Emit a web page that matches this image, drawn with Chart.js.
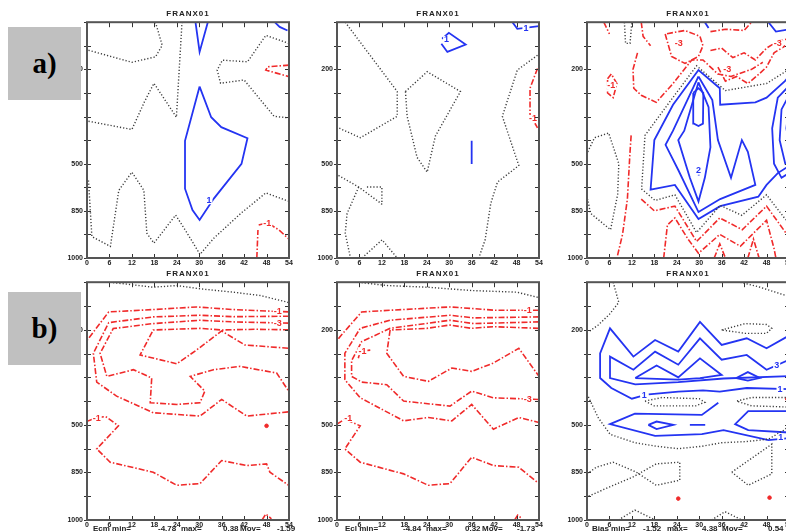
<!DOCTYPE html>
<html>
<head>
<meta charset="utf-8">
<script src="https://cdn.jsdelivr.net/npm/chart.js@4.4.1/dist/chart.umd.min.js"></script>
<style>
body{margin:0;width:786px;height:532px;overflow:hidden;background:#fff;position:relative;font-family:"Liberation Sans",Arial,sans-serif}
canvas{position:absolute}
.ttl{position:absolute;width:202px;text-align:center;font:bold 8px "Liberation Sans",Arial,sans-serif;letter-spacing:1px;color:#222}
.tag{position:absolute;left:8px;width:73px;height:73px;background:#c0c0c0;z-index:5;display:flex;align-items:center;justify-content:center;font:bold 29px "Liberation Serif","DejaVu Serif",serif;color:#000}
.ft{position:absolute;top:524px;font:bold 8px "Liberation Sans",Arial,sans-serif;color:#222;white-space:pre}
</style>
</head>
<body>
<div class="tag" style="top:27px">a)</div>
<div class="tag" style="top:292px">b)</div>
<script>
// axis ticks
const xTicks = [0, 6, 12, 18, 24, 30, 36, 42, 48, 54]
const yLevels = [2, 6, 8, 10]
const yLabels = ['200', '500', '850', '1000']

// contours: [x, level] with level 0 at top, 10 at 1000
// --- a) left
const p1Zero = [
  [[0.4,4.2],[12,4.55],[15.4,3.36],[17.9,2.59],[23.9,4.03],[25.4,0]],
  [[0.4,1.19],[12,1.7],[18.3,1.47],[20.1,0.98],[18.3,0]],
  [[54,0.9],[47.8,0.56],[42.9,1.68],[36.2,1.61],[34.8,2.03],[35.7,2.59],[42,2.45],[50,3.99],[54,4.06]],
  [[0.4,6.71],[1.3,9.09],[6.25,9.51],[8.5,7.13],[12,6.36],[15.2,7.13],[16,8.95],[17.9,9.37],[23.7,8.18],[26.8,8.95],[30.2,9.85],[33.9,9.16],[41.1,8.11],[47.8,7.24],[54,7.6]]
]
const p1Pos = [
  [[29,0],[30.1,1.26],[32.3,0]],
  [[30.1,2.73],[33.2,4.03],[35.9,4.45],[42.9,4.92],[41.3,6.01],[33.9,7.48],[30.1,8.39],[28.2,7.97],[26.2,7.06],[26.2,5.03],[30.1,2.73]],
  [[50.2,0],[51.5,0.2],[53.6,0.35]]
]
const p1Neg = [
  [[54,1.82],[48.3,1.89],[47.8,2.03],[50.9,2.17],[54,2.31]],
  [[45.4,10],[45.7,8.81]],
  [[45.9,8.6],[48.2,8.5],[51.3,8.81],[54,9.2]]
]
const p1Labels = [[32.6,7.55,'1','pos'],[48.2,8.55,'-1','neg']]

// --- a) middle
const p2Zero = [
  [[2.2,0],[16.1,2.94],[16.1,3.99],[6.25,4.9],[0.4,4.48]],
  [[18.3,2.94],[24.1,2.1],[33,2.94],[26.3,4.83],[24.1,6.36],[21.4,5.73],[18.75,3.99],[18.3,2.94]],
  [[53.6,1.4],[48.2,2.03],[44.2,3.99],[48.6,6.08],[42.9,6.78],[41.1,7.69],[39.6,9.23],[37.9,10]],
  [[0.4,6.5],[5.8,6.99],[12.05,7.72]],
  [[8,6.99],[12,6.99],[12,7.72]],
  [[5.8,6.99],[2.7,8.11],[2.2,8.95],[3.6,10]],
  [[6.7,10],[12.05,9.23],[16.1,10]]
]
const p2Pos = [
  [[28.1,0.7],[29.9,0.45],[34.4,0.95],[29.5,1.26],[27.9,0.91]],
  [[36,5.03],[36,6.01]],
  [[46.9,0],[48.2,0.28],[54,0.17]]
]
const p2Neg = [
  [[53.6,1.96],[51.6,2.8],[51.6,3.92],[53.6,4.48]]
]
const p2Labels = [[29.3,0.75,'1','pos'],[50.5,0.25,'1','pos'],[52.4,4.1,'-1','neg']]

// --- a) right
const p3Zero = [
  [[54,2.0],[48,2.6],[37,2.9],[29.3,1.85],[22,3.4],[15.5,4.8],[14.6,7.07],[18.2,7.56],[23.5,7.32],[29.3,8.92],[35.6,7.77],[41.4,8.19],[48,7.32],[52.9,8.33],[54,8.5]],
  [[0.2,5.5],[2,4.9],[5.8,4.7],[8.5,6.0],[8.2,7.3],[6.3,8.8],[0.9,8.1],[0.2,7.5]],
  [[10,0],[10.3,0.9],[11.5,0.9],[12,0]]
]
const p3Pos = [
  [[54,2.3],[52.9,2.5],[48,3.2],[45,3.4],[35.6,3.5],[35.5,2.8],[29.8,2.03],[23,3.5],[18,5.0],[17,7.1],[23.5,6.9],[29.8,8.35],[35.6,7.8],[45.8,7.4],[48,6.9],[51,6.4],[54,6.1]],
  [[29.8,2.3],[33.5,3.3],[35,5.0],[38.5,6.6],[41.4,5.0],[43,5.5],[45,6.9],[35.6,7.5],[29.8,8.05],[24.5,6.3],[21,5.2],[23,4.6],[29.8,2.3]],
  [[29.8,2.55],[32.5,3.6],[33,5.3],[31.5,6.6],[29.8,7.6],[27.5,6.6],[24.4,5.0],[26,4.6],[29.8,2.55]],
  [[28.4,3.0],[29.8,2.8],[31.1,3.0],[31,4.3],[29.8,4.4],[28.6,4.3],[28.4,3.0]],
  [[29.4,6.2],[30.4,6.2],[29.8,6.5]],
  [[54,2.7],[51,3.2],[49.5,4.5],[50,6.0],[52,6.6],[54,6.4]],
  [[54,3.1],[52,3.7],[51.5,5.0],[53,6.0],[54,6.0]],
  [[54,3.6],[53.3,4.5],[54,5.2]],
  [[48.5,0],[50.5,0.4],[54,0.3]],
  [[31.5,0],[32.5,0.25]]
]
const p3Neg = [
  [[13.5,1.3],[12.3,2.0],[12.5,2.8],[14.5,3.1],[18.5,3.4],[23,2.6],[28,1.6],[31,1.6],[35,2.2],[38.5,2.3],[44,2.0],[47,1.7]],
  [[20.9,0.5],[22.6,1.45],[26.2,1.75],[29.8,1.45],[31,1.0],[30.2,0.6],[26.2,0.35],[20.9,0.5]],
  [[14.5,0],[15,0.6],[17,1.0]],
  [[4.5,0],[6,0.5]],
  [[33,1.2],[36,1.1],[39,1.5],[42,1.3],[45,1.6],[48,1.1],[51,0.8],[54,0.7]],
  [[33,0.4],[37,0.3],[42,0.35],[44,0]],
  [[5.5,2.4],[6.5,2.2],[8,2.6],[7,3.2],[5.5,3.0],[5.5,2.4]],
  [[35,1.9],[37,2.5],[40,2.3],[43,2.6],[46,2.2],[48,1.9],[50,1.3],[53,1.0]],
  [[11.8,4.8],[11.5,5.5],[10.8,7.5],[9.5,9.0],[8,10]],
  [[14.5,7.5],[18,8.0],[23.5,7.8],[29.3,9.3],[35.5,8.3],[41.5,8.8],[48,7.8],[53,8.9],[54,9.0]],
  [[20.5,10],[21.5,8.6],[23.5,8.3],[27,9.2],[29.8,9.8],[35.5,9.0],[41,9.5],[48,8.4],[50,9.6],[50.5,10]],
  [[34,10],[35.5,9.4],[37,10]],
  [[43,10],[44.5,9.2],[46,10]]
]
const p3Labels = [[6.5,2.7,'-1','neg'],[24.5,0.9,'-3','neg'],[37.5,2.0,'-3','neg'],[51,0.9,'-3','neg'],[29.8,6.3,'2','pos']]

// --- b) left
const p4Zero = [
  [[6.1,0],[17.7,0.21],[24,0.14],[30.3,0.28],[39.1,0.42],[46.3,0.56],[53.4,0.83],[54,0.87]]
]
const p4Pos = []
const p4Neg = [
  [[54,1.25],[39.1,1.15],[29.3,1.04],[17.7,1.15],[5.8,1.25],[0,2.45]],
  [[54,1.43],[39,1.45],[30.2,1.39],[17.7,1.46],[5.8,1.7],[1.7,2.99],[2.6,4.2],[7.9,4.79],[17.7,5.49],[30.2,5.63],[36,4.93],[42.7,5.63],[54,5.45]],
  [[54,1.72],[39.1,1.67],[30.2,1.6],[17.7,1.74],[7,1.95],[3.5,2.99],[5.3,3.96],[12.4,3.68],[17.3,4.03],[16.9,5.07],[24,5.14],[30.2,5.07],[31.5,4.58],[27.6,3.96],[33.8,3.68],[40.9,3.54],[50.7,3.82],[54,4.6]],
  [[54,2.0],[45,1.98],[36,2.01],[30.2,1.94],[17.7,2.01],[14.2,3.06],[24,3.43],[29.3,2.85],[36,2.05],[42.2,2.64],[54,2.78]],
  [[0,5.85],[2.6,5.7],[5,5.65],[8.4,6.04],[2.6,7.01],[6.2,7.57],[17.7,7.99],[24,8.54],[30.2,8.47],[36,7.5],[42.7,7.71],[48,7.64],[48.9,7.99],[54,8.55]],
  [[46.8,10],[47.8,9.75],[49.3,9.95]]
]
const p4Dots = [[48,6.04]]
const p4Labels = [[51,1.22,'-1','neg'],[51,1.72,'-3','neg'],[2.6,5.72,'-1','neg']]

// --- b) middle
const p5Zero = [
  [[5.7,0],[13.3,0.14],[24,0.21],[36,0.35],[48.1,0.42],[54,0.65]]
]
const p5Pos = []
const p5Neg = [
  [[54,1.18],[42.3,1.18],[30.2,1.04],[14.2,1.18],[6.6,1.25],[0.8,2.29],[0,2.45]],
  [[54,1.46],[36.5,1.5],[30.2,1.39],[14.2,1.6],[6.2,1.94],[2.1,2.99],[2.1,4.1],[6.2,4.86],[17.8,5.83],[24.4,5.69],[30.7,5.83],[36,5.14],[41.8,6.18],[48.6,5.69],[54,5.9]],
  [[54,1.67],[36.5,1.74],[30.2,1.6],[14.2,1.94],[6.6,2.5],[3.9,3.3],[3.9,3.96],[6.6,4.2],[13.3,4.31],[17.8,5.0],[30.2,5.21],[36,4.58],[41.8,4.86],[54,4.93]],
  [[54,1.94],[41.8,1.87],[36,1.94],[30.2,1.8],[24,1.94],[14.2,2.01],[13.3,2.99],[17.8,3.96],[24.4,4.17],[30.7,3.61],[36,3.75],[41.8,3.4],[48.6,2.78],[54,3.96]],
  [[0,5.97],[2.1,5.76],[6.2,6.04],[2.1,7.01],[6.2,7.57],[17.8,8.06],[24.4,8.54],[30.2,8.47],[36,7.36],[41.8,7.71],[48.6,7.78],[54,8.47]],
  [[5.7,3.2],[6.2,2.9],[9.3,2.85]],
  [[47.5,10],[48.3,9.8],[49.5,9.95]]
]
const p5Dots = []
const p5Labels = [[51,1.18,'-1','neg'],[51,4.93,'-3','neg'],[3,5.72,'-1','neg'],[6.8,2.9,'-1','neg']]

// --- b) right
const p6Zero = [
  [[7,0],[8.5,0.85],[6,1.35],[3,1.8],[0.3,2.1]],
  [[41,0],[46,0.2],[54,0.6]],
  [[36,2.01],[42.3,1.74],[48,1.78],[49.4,1.94],[48,2.15],[42.3,2.15],[36,2.01]],
  [[15.5,5.0],[20,4.85],[30,4.9],[31.5,5.05],[29,5.2],[18,5.2],[15.5,5.0]],
  [[54,4.85],[44,4.85],[40,5.0],[44,5.2],[54,5.25]],
  [[0,4.7],[3,5.7],[6.2,6.4],[12.8,6.75],[18.6,6.9],[24.4,7.0],[30.7,6.9],[36,6.75],[42.7,6.7],[48.5,6.6],[52.9,6.2],[54,6.0]],
  [[0,8.06],[2.5,7.78],[6.95,7.57],[13.2,7.99],[18.5,8.54],[24.8,8.33],[24.8,7.57],[18.5,7.64],[12.3,8.19],[5,8.68],[0,9.03]],
  [[38.7,7.99],[49.4,6.81],[49.4,8.06],[43.1,8.54],[38.7,7.99]],
  [[8.4,10],[12.8,9.58],[18.2,10]],
  [[33.3,10],[36.9,9.65],[41.4,10]]
]
const p6Pos = [
  [[54,2.25],[53.4,2.3],[48,2.78],[42.7,2.36],[36,2.64],[30.2,1.67],[24.4,2.92],[18.2,2.43],[12.4,3.13],[6.15,1.94],[3.5,2.99],[3.5,4.03],[6.5,4.45],[12,4.9],[14.2,4.8]],
  [[16.5,4.72],[24.4,4.6],[31,4.55],[35.5,4.6],[42.7,4.45],[54,4.5]],
  [[54,3.26],[48,3.68],[42.7,3.06],[36,3.26],[30.2,2.36],[24.4,3.47],[18.2,2.92],[12.4,3.68],[6.15,3.13],[6.15,4.03],[12.9,4.3],[24.4,4.2],[36.5,4.05],[54,3.95]],
  [[12.9,4.03],[18.6,3.5],[24.4,4.0],[30.2,3.2],[36,3.9],[30.2,4.03],[24.4,4.1],[12.9,4.03]],
  [[30.5,4.02],[31.2,4.02]],
  [[39.9,4.03],[43,3.78],[46.2,4.03],[43,4.14],[39.9,4.03]],
  [[35.1,5.07],[30.7,5.58],[12.8,5.53],[6.15,5.97],[18.2,6.46],[30.7,6.39],[36.5,6.22],[48.5,6.64],[54,6.56]],
  [[54,5.42],[43.1,5.42],[39.6,5.97],[43.1,6.22],[54,6.32]],
  [[16.4,6.0],[18.6,5.86],[23.1,6.0],[18.6,6.18],[16.4,6.0]],
  [[27.5,6.0],[31.6,6.0]]
]
const p6Neg = []
const p6Dots = [[24.4,9.1],[48.8,9.06],[53.5,4.9]]
const p6Labels = [[15.3,4.76,'1','pos'],[51.6,4.5,'1','pos'],[50.7,3.5,'3','pos'],[51.8,6.55,'1','pos']]

// bottom notes
const notes = [
  ['Ecm min=', '-4.78', 'max=', '0.38', 'Mov=', '-1.59'],
  ['Ecl min=', '-4.84', 'max=', '0.32', 'Mov=', '-1.73'],
  ['Bias min=', '-1.52', 'max=', '4.38', 'Mov=', '0.54']
]

const panels = [
  {left: 87,  top: 20,  h: 238, zero: p1Zero, pos: p1Pos, neg: p1Neg, dots: [], labels: p1Labels},
  {left: 337, top: 20,  h: 238, zero: p2Zero, pos: p2Pos, neg: p2Neg, dots: [], labels: p2Labels},
  {left: 587, top: 20,  h: 238, zero: p3Zero, pos: p3Pos, neg: p3Neg, dots: [], labels: p3Labels},
  {left: 87,  top: 280, h: 240, zero: p4Zero, pos: p4Pos, neg: p4Neg, dots: p4Dots, labels: p4Labels, note: 0},
  {left: 337, top: 280, h: 240, zero: p5Zero, pos: p5Pos, neg: p5Neg, dots: p5Dots, labels: p5Labels, note: 1},
  {left: 587, top: 280, h: 240, zero: p6Zero, pos: p6Pos, neg: p6Neg, dots: p6Dots, labels: p6Labels, note: 2}
]
const noteOffsets = [[6, 71, 94, 136, 153, 190], [8, 66, 89, 128, 145, 180], [5, 56, 80, 115, 135, 181]]

const BLUE = '#2434f2', RED = '#f02a2a', GREY = '#3c3c3c'
const zeroStyle = {borderColor: GREY, borderWidth: 1.4, borderDash: [1.2, 2]}
const posStyle = {borderColor: BLUE, borderWidth: 1.8}
const negStyle = {borderColor: RED, borderWidth: 1.6, borderDash: [6, 2, 1.5, 2]}

function toLines(list, style) {
    return list.map(pts => ({
        data: pts.map(([x, y]) => ({x, y})),
        showLine: true, pointRadius: 0, fill: false, ...style
    }))
}

// frame with inward ticks, like the original plots
const framePlugin = {
    id: 'frame',
    afterDraw(chart) {
        const {ctx, chartArea: a, scales: {x, y}} = chart
        ctx.save()
        ctx.strokeStyle = '#333'
        ctx.lineWidth = 1
        ctx.beginPath()
        xTicks.forEach(v => {
            const px = Math.round(x.getPixelForValue(v)) + 0.5
            ctx.moveTo(px, a.bottom); ctx.lineTo(px, a.bottom - 4)
            ctx.moveTo(px, a.top); ctx.lineTo(px, a.top + 5)
        })
        for (let v = 0; v <= 10; v++) {
            const py = Math.round(y.getPixelForValue(v)) + 0.5
            ctx.moveTo(a.left - 3, py); ctx.lineTo(a.left + 4, py)
            ctx.moveTo(a.right, py); ctx.lineTo(a.right - 4, py)
        }
        ctx.stroke()
        ctx.strokeStyle = '#555'
        ctx.lineWidth = 2
        ctx.strokeRect(a.left, a.top, a.right - a.left, a.bottom - a.top)
        ctx.restore()
    }
}

// contour value labels
const labelPlugin = {
    id: 'contourLabels',
    afterDatasetsDraw(chart, args, opts) {
        const {ctx, scales: {x, y}} = chart
        ctx.save()
        ctx.font = 'bold 9px "Liberation Sans", Arial'
        ctx.textAlign = 'center'
        ctx.textBaseline = 'middle'
        ;(opts.items || []).forEach(([vx, vy, t, kind]) => {
            const px = x.getPixelForValue(vx), py = y.getPixelForValue(vy)
            const w = ctx.measureText(t).width
            ctx.fillStyle = '#fff'
            ctx.fillRect(px - w / 2 - 1, py - 4, w + 2, 8)
            ctx.fillStyle = kind == 'pos' ? BLUE : RED
            ctx.fillText(t, px, py)
        })
        ctx.restore()
    }
}

panels.forEach(p => {
    const canvas = document.createElement('canvas')
    canvas.width = 248
    canvas.height = p.h + 20
    canvas.style.left = (p.left - 40) + 'px'
    canvas.style.top = (p.top - 6) + 'px'
    document.body.appendChild(canvas)

    const ttl = document.createElement('div')
    ttl.className = 'ttl'
    ttl.textContent = 'FRANX01'
    ttl.style.left = p.left + 'px'
    ttl.style.top = (p.top - 11) + 'px'
    document.body.appendChild(ttl)

    if (p.note !== undefined) {
        notes[p.note].forEach((t, i) => {
            const s = document.createElement('div')
            s.className = 'ft'
            s.textContent = t
            s.style.left = (p.left + noteOffsets[p.note][i]) + 'px'
            document.body.appendChild(s)
        })
    }

    const datasets = [
        ...toLines(p.zero, zeroStyle),
        ...toLines(p.neg, negStyle),
        ...toLines(p.pos, posStyle),
        {data: p.dots.map(([x, y]) => ({x, y})), showLine: false, pointRadius: 1.8,
         pointBackgroundColor: RED, pointBorderColor: RED}
    ]

    new Chart(canvas.getContext('2d'), {
        type: 'scatter',
        data: {datasets},
        options: {
            responsive: false,
            animation: false,
            layout: {padding: {left: 0, right: 6, top: 6, bottom: 0}},
            plugins: {legend: {display: false}, tooltip: {enabled: false}, contourLabels: {items: p.labels}},
            scales: {
                x: {
                    type: 'linear', min: 0, max: 54,
                    afterBuildTicks: s => { s.ticks = xTicks.map(v => ({value: v})) },
                    afterFit: s => { s.height = 14 },
                    ticks: {autoSkip: false, maxRotation: 0, padding: 1, color: '#222',
                            font: {size: 7, weight: 'bold', family: '"Liberation Sans", Arial'}},
                    grid: {display: false, drawTicks: false},
                    border: {display: false}
                },
                y: {
                    type: 'linear', min: 0, max: 10, reverse: true,
                    afterBuildTicks: s => { s.ticks = Array.from({length: 11}, (_, i) => ({value: i})) },
                    afterFit: s => { s.width = 40 },
                    ticks: {autoSkip: false, padding: 4, color: '#222',
                            font: {size: 7, weight: 'bold', family: '"Liberation Sans", Arial'},
                            callback: v => { const i = yLevels.indexOf(v); return i < 0 ? '' : yLabels[i] }},
                    grid: {display: false, drawTicks: false},
                    border: {display: false}
                }
            }
        },
        plugins: [framePlugin, labelPlugin]
    })
})
</script>
</body>
</html>
